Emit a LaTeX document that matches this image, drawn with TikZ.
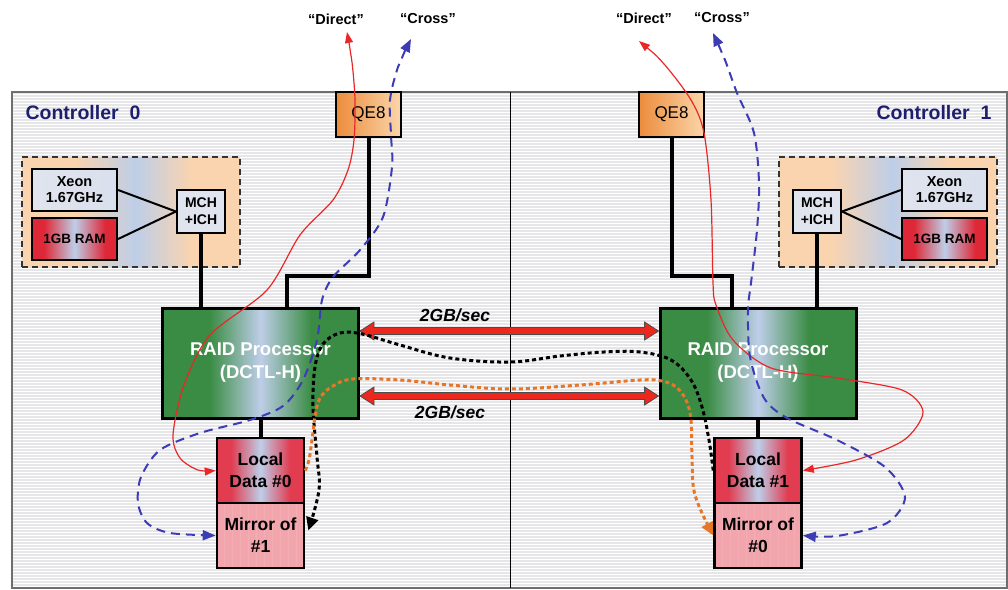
\documentclass[tikz,border=0pt]{standalone}
\usepackage{fontspec}
\setmainfont{Liberation Sans}
\usetikzlibrary{arrows.meta,calc}
\definecolor{navy}{RGB}{30,30,110}
\definecolor{bgstripe}{RGB}{230,230,232}
\definecolor{framegray}{RGB}{110,110,110}
\definecolor{peach}{RGB}{250,212,175}
\definecolor{paleblue}{RGB}{190,206,232}
\definecolor{ramred}{RGB}{222,40,55}
\definecolor{raidgreen}{RGB}{58,140,68}
\definecolor{ldred}{RGB}{225,60,80}
\definecolor{mirpink}{RGB}{242,165,172}
\definecolor{qeorange}{RGB}{236,140,60}
\definecolor{qelight}{RGB}{250,214,170}
\definecolor{chipgray}{RGB}{224,228,238}
\definecolor{linered}{RGB}{232,40,40}
\definecolor{arrred}{RGB}{236,40,30}
\definecolor{crossblue}{RGB}{60,60,180}
\definecolor{dotorange}{RGB}{232,118,40}
\pgfdeclarehorizontalshading{hostsh}{100bp}{color(0bp)=(peach); color(37bp)=(peach); color(51bp)=(paleblue); color(64bp)=(peach); color(100bp)=(peach)}
\pgfdeclarehorizontalshading{raidsh}{100bp}{color(0bp)=(raidgreen); color(37bp)=(raidgreen); color(50bp)=(paleblue); color(63bp)=(raidgreen); color(100bp)=(raidgreen)}
\pgfdeclarehorizontalshading{ldsh}{100bp}{color(0bp)=(ldred); color(33bp)=(ldred); color(50bp)=(paleblue); color(67bp)=(ldred); color(100bp)=(ldred)}
\pgfdeclarehorizontalshading{ramsh}{100bp}{color(0bp)=(ramred); color(32bp)=(ramred); color(50bp)=(paleblue); color(68bp)=(ramred); color(100bp)=(ramred)}
\tikzset{
  box/.style={draw=black, line width=2.6pt, inner sep=0pt, align=center},
  qebox/.style={box, left color=qeorange, right color=qelight, minimum width=65pt, minimum height=45pt, font=\fontsize{17}{19}\selectfont},
  hostbox/.style={draw=black!80, line width=1.8pt, dash pattern=on 6pt off 4pt, shading=hostsh, minimum width=218pt, minimum height=110pt},
  chip/.style={box, line width=2.2pt, left color=chipgray, right color=chipgray!80!paleblue, minimum width=85pt, minimum height=42pt, font=\bfseries\fontsize{14.5}{16}\selectfont},
  ram/.style={box, line width=2.2pt, shading=ramsh, minimum width=85pt, minimum height=42pt, font=\bfseries\fontsize{13.5}{15}\selectfont},
  mch/.style={box, line width=2.2pt, fill=chipgray, minimum width=48pt, minimum height=43pt, font=\bfseries\fontsize{14}{17}\selectfont},
  raid/.style={box, line width=3pt, shading=raidsh, minimum width=196pt, minimum height=110pt, text=white, font=\bfseries\fontsize{18.5}{23}\selectfont},
  ldata/.style={box, shading=ldsh, minimum width=87pt, minimum height=65pt, font=\bfseries\fontsize{17.5}{22}\selectfont},
  mirror/.style={box, fill=mirpink, minimum width=87pt, minimum height=65pt, font=\bfseries\fontsize{17.5}{22}\selectfont,
    path picture={\foreach \xx in {-36,-28,...,36} \draw[white, opacity=0.1, line width=1pt] ([xshift=\xx pt]path picture bounding box.north) -- ([xshift=\xx pt]path picture bounding box.south);}},
  bus/.style={line width=4pt, black},
  thin/.style={line width=2pt, black},
  direct/.style={linered, line width=1.2pt, {Triangle[length=11pt,width=8pt]}-{Triangle[length=11pt,width=8pt]}},
  cross/.style={crossblue, line width=2pt, dash pattern=on 9pt off 6pt, {Triangle[length=13pt,width=10pt]}-{Triangle[length=13pt,width=10pt]}},
  blackdot/.style={black, line width=3pt, dash pattern=on 4pt off 3pt, -{Triangle[length=13pt,width=12pt]}},
  orangedot/.style={dotorange, line width=3pt, dash pattern=on 4pt off 3pt, -{Triangle[length=13pt,width=12pt]}},
  fatarrow/.style={fill=arrred, draw=black!70, line width=0.8pt},
  ctl/.style={text=navy, font=\bfseries\fontsize{19.5}{22}\selectfont},
  tag/.style={font=\bfseries\fontsize{14.5}{16}\selectfont},
  rate/.style={font=\bfseries\itshape\fontsize{17.5}{20}\selectfont}
}
\begin{document}
\begin{tikzpicture}[x=1pt,y=-1pt]
\useasboundingbox (0,0) rectangle (1008,589);
% frame with stripes
\fill[bgstripe] (12,92) rectangle (1007,588);
\foreach \yy in {94,97,...,586} \draw[white, line width=0.9pt] (13,\yy) -- (1006,\yy);
\draw[framegray, line width=1.4pt] (12,92) rectangle (1007,588);
\draw[black, line width=1pt] (510,92) -- (510,588);

\node[ctl, anchor=west] (c0) at (22,113) {Controller\ \ 0};
\node[ctl, anchor=east] (c1) at (995,113) {Controller\ \ 1};

\node[tag] (dl) at (336,19) {“Direct”};
\node[tag] (cl) at (428,19) {“Cross”};
\node[tag] (dr) at (644,18) {“Direct”};
\node[tag] (cr) at (722,18) {“Cross”};

% host groups
\node[hostbox] (hostL) at (131,212) {};
\node[hostbox] (hostR) at (888,212) {};
\node[chip] (xeonL) at (74.5,190) {Xeon\\1.67GHz};
\node[ram]  (ramL)  at (74.5,239) {1GB RAM};
\node[mch]  (mchL)  at (201,211.5) {MCH\\+ICH};
\node[chip] (xeonR) at (944.5,190) {Xeon\\1.67GHz};
\node[ram]  (ramR)  at (944.5,239) {1GB RAM};
\node[mch]  (mchR)  at (817,211.5) {MCH\\+ICH};
\draw[thin] (xeonL.east) -- (mchL.west);
\draw[thin] (ramL.east) -- (mchL.west);
\draw[thin] (mchR.east) -- (xeonR.west);
\draw[thin] (mchR.east) -- (ramR.west);

% QE8
\node[qebox] (qeL) at (368.5,114.5) {QE8};
\node[qebox] (qeR) at (671.5,114.5) {QE8};

% RAID processors
\node[raid] (raidL) at (260.5,363) {RAID Processor\\(DCTL-H)};
\node[raid] (raidR) at (758,363) {RAID Processor\\(DCTL-H)};

% storage
\node[ldata]  (ldL)  at (260.5,470.5) {Local\\Data \#0};
\node[mirror] (mirL) at (260.5,535.5) {Mirror of\\\#1};
\node[ldata]  (ldR)  at (758,470.5) {Local\\Data \#1};
\node[mirror] (mirR) at (758,535.5) {Mirror of\\\#0};

% buses
\coordinate (jL) at (287,276);
\coordinate (jR) at (732,276);
\draw[bus] (mchL.south) -- (mchL.south |- raidL.north);
\draw[bus] (qeL.south) |- (jL) -- (jL |- raidL.north);
\draw[bus] (mchR.south) -- (mchR.south |- raidR.north);
\draw[bus] (qeR.south) |- (jR) -- (jR |- raidR.north);
\draw[bus] (raidL.south) -- (ldL.north);
\draw[bus] (raidR.south) -- (ldR.north);

% 2GB/sec links
\coordinate (a1) at (raidL.east |- 0,331);
\coordinate (b1) at (raidR.west |- 0,331);
\coordinate (a2) at (raidL.east |- 0,396);
\coordinate (b2) at (raidR.west |- 0,396);
\foreach \a/\b in {a1/b1,a2/b2}{
  \draw[fatarrow] (\a) -- ++(14,-9) -- ++(0,5.5) -- ($(\b)+(-14,-3.5)$) -- ++(0,-5.5) -- (\b)
     -- ++(-14,9) -- ++(0,-5.5) -- ($(\a)+(14,3.5)$) -- ++(0,5.5) -- cycle;
}
\node[rate] (r1) at (455,315) {2GB/sec};
\node[rate] (r2) at (450,412) {2GB/sec};

% mirror traffic
\draw[blackdot] plot[smooth, tension=0.6] coordinates {(ldR.west) (709,440) (702,407) (691,380) (671,360) (640,352) (604,352) (560,356) (510,362) (450,358) (400,345) (362,334) (340,333) (323,344) (315,367) (313,407) (317,457) (319,490) ($(mirL.east)+(3,-5)$)};
\draw[orangedot] plot[smooth, tension=0.6] coordinates {(ldL.east) (309,460) (312,440) (315,417) (320,398) (333,386) (353,379) (400,380) (450,385) (510,389) (580,385) (640,380) (662,381) (676,387) (686,400) (691,420) (692,457) (695,495) (mirR.west)};

% host traffic
\coordinate (tipDL) at (347,32);
\coordinate (tipCL) at (411,39);
\coordinate (tipDR) at (639,41);
\coordinate (tipCR) at (713,33);
\draw[direct] plot[smooth] coordinates {(tipDL) (352,62) (355,100) (354,140) (348,170) (333,200) (300,235) (267,290) (210,335) (184,385) (173,435) (180,458) (198,470) (ldL.west)};
\draw[cross] plot[smooth] coordinates {(tipCL) (398,67) (390,100) (391,135) (392,167) (383,217) (360,250) (333,277) (322,300) (317,340) (303,380) (283,406) (250,420) (200,433) (160,450) (141,477) (138,503) (147,523) (170,533) (mirL.west)};
\draw[direct] plot[smooth] coordinates {(tipDR) (664,64) (691,100) (704,133) (711,200) (713,283) (716,305) (733,340) (771,368) (837,378) (902,390) (923,412) (904,440) (856,460) (ldR.east)};
\draw[cross] plot[smooth] coordinates {(tipCR) (725,60) (737,93) (754,133) (759,183) (757,230) (751,283) (748,310) (750,357) (764,398) (787,418) (837,440) (885,467) (905,497) (887,523) (837,536) (mirR.east)};
\end{tikzpicture}
\end{document}
